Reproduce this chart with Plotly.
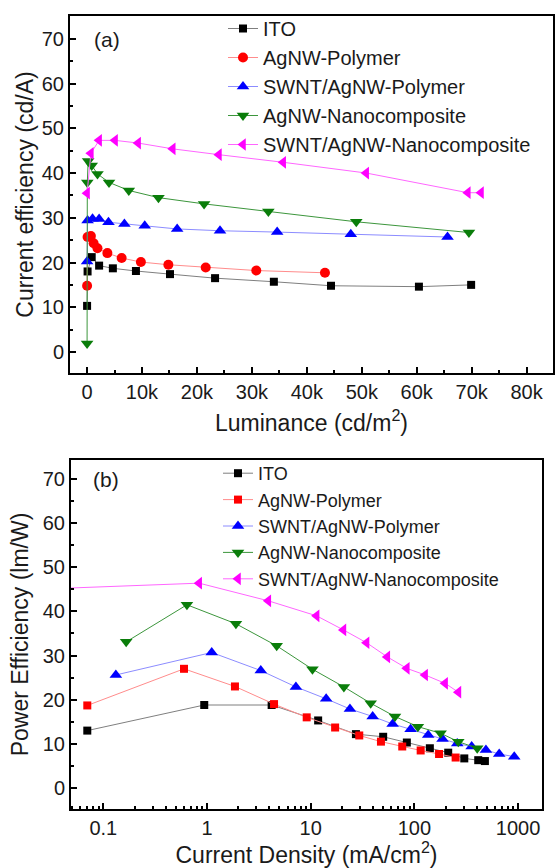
import plotly.graph_objects as go

# ---------------- data (a): current efficiency vs luminance ----------------
names = ["ITO", "AgNW-Polymer", "SWNT/AgNW-Polymer", "AgNW-Nanocomposite", "SWNT/AgNW-Nanocomposite"]

ito_a_x = [10, 100, 850, 2200, 4700, 8900, 15100, 23300, 34000, 44400, 60400, 69900]
ito_a_y = [10.3, 18.0, 21.2, 19.3, 18.7, 18.1, 17.4, 16.5, 15.7, 14.8, 14.6, 15.0]

agp_a_x = [10, 100, 700, 1200, 1900, 3700, 6300, 9800, 14800, 21600, 30800, 43300]
agp_a_y = [14.8, 25.7, 25.9, 24.3, 23.2, 22.1, 21.0, 20.1, 19.5, 18.9, 18.2, 17.7]

swp_a_x = [10, 100, 1000, 2200, 3900, 6800, 10500, 16400, 24200, 34600, 48000, 65600]
swp_a_y = [20.2, 29.4, 29.8, 29.7, 29.0, 28.6, 28.2, 27.5, 27.1, 26.8, 26.3, 25.7]

agn_a_x = [10, 50, 200, 850, 1900, 4000, 7600, 13000, 21300, 33000, 49000, 69500]
agn_a_y = [1.9, 37.9, 42.7, 41.7, 39.8, 37.9, 36.1, 34.5, 33.1, 31.4, 29.1, 26.7]

swn_a_x = [10, 700, 2200, 5100, 9300, 15600, 24000, 35700, 50800, 69300, 71700]
swn_a_y = [35.5, 44.4, 47.3, 47.3, 46.7, 45.4, 44.1, 42.4, 40.0, 35.6, 35.6]

# ---------------- data (b): power efficiency vs current density ----------------
ito_b_x = [0.070, 0.94, 4.2, 11.8, 27.3, 50, 84.6, 141, 212, 303, 413, 479]
ito_b_y = [13.0, 18.8, 18.8, 15.3, 12.2, 11.6, 10.3, 9.0, 8.0, 6.7, 6.3, 6.1]

agp_b_x = [0.070, 0.60, 1.86, 4.43, 9.15, 17.2, 29.4, 47.6, 76.4, 115, 173, 250]
agp_b_y = [18.7, 27.0, 23.0, 19.0, 16.0, 13.7, 11.9, 10.5, 9.4, 8.5, 7.7, 6.9]

swp_b_x = [0.132, 1.11, 3.3, 7.2, 14.1, 23.9, 39.6, 61.7, 92, 136, 187, 259, 357, 490, 658, 919]
swp_b_y = [25.6, 30.7, 26.6, 22.9, 20.2, 17.9, 16.2, 14.5, 13.3, 12.0, 11.1, 10.1, 9.4, 8.6, 7.7, 7.1]

agn_b_x = [0.166, 0.64, 1.9, 4.7, 10.4, 20.9, 37.9, 65, 108, 179, 265, 404]
agn_b_y = [33.1, 41.5, 37.2, 32.2, 26.9, 22.9, 19.2, 16.2, 13.9, 12.4, 10.5, 9.0]

swn_b_x = [0.01, 0.84, 3.9, 11.4, 20.7, 34.6, 54.8, 84.5, 127, 198, 266]
swn_b_y = [44.7, 46.4, 42.4, 39.0, 35.8, 32.9, 29.7, 27.1, 25.6, 23.7, 21.7]

log_major = [0.1, 1, 10, 100, 1000]
log_labels = ["0.1", "1", "10", "100", "1000"]

# ---------------- styles ----------------
mcol = ["#000000", "#ff0000", "#0000ff", "#0a7d0a", "#ff00ff"]
lcol = ["#7f7f7f", "#ff8c8c", "#8c8cff", "#3c963c", "#ff66ff"]
sym_a = ["square", "circle", "triangle-up", "triangle-down", "triangle-left"]
sym_b = ["square", "square", "triangle-up", "triangle-down", "triangle-left"]
msize_a = [8, 10, 11, 11, 11]
msize_b = [8, 8, 11, 11, 11]

FONT = "Arial, Liberation Sans, sans-serif"
TXT = "#1a1a1a"
fig = go.Figure()

data_a = [(ito_a_x, ito_a_y), (agp_a_x, agp_a_y), (swp_a_x, swp_a_y), (agn_a_x, agn_a_y), (swn_a_x, swn_a_y)]
data_b = [(ito_b_x, ito_b_y), (agp_b_x, agp_b_y), (swp_b_x, swp_b_y), (agn_b_x, agn_b_y), (swn_b_x, swn_b_y)]

for i, (x, y) in enumerate(data_a):
    fig.add_trace(go.Scatter(x=x, y=y, name=names[i], mode="lines+markers",
                             xaxis="x", yaxis="y", legend="legend",
                             line=dict(color=lcol[i], width=1),
                             marker=dict(color=mcol[i], symbol=sym_a[i], size=msize_a[i])))
for i, (x, y) in enumerate(data_b):
    fig.add_trace(go.Scatter(x=x, y=y, name=names[i], mode="lines+markers",
                             xaxis="x2", yaxis="y2", legend="legend2",
                             line=dict(color=lcol[i], width=1),
                             marker=dict(color=mcol[i], symbol=sym_b[i], size=msize_b[i])))

# minor ticks at 2..9 of each decade for the log axis
minor_log = [m * 10 ** e for e in range(-2, 4) for m in range(2, 10)]

W, H = 555, 868
def px(v): return v / W
def py(v): return 1 - v / H

axcommon = dict(showline=True, linecolor="black", linewidth=2, mirror=True,
                ticks="inside", ticklen=6, tickwidth=2, tickcolor="black",
                showgrid=False, zeroline=False,
                tickfont=dict(family=FONT, size=20, color=TXT),
                title_font=dict(family=FONT, size=23, color=TXT))

fig.update_layout(
    width=W, height=H, margin=dict(l=0, r=0, t=0, b=0),
    paper_bgcolor="white", plot_bgcolor="white",
    font=dict(family=FONT, color=TXT),
    xaxis=dict(domain=[px(70), px(553)], anchor="y", range=[-3100, 84800], dtick=10000,
               minor=dict(ticks="inside", ticklen=3, tickwidth=2, dtick=5000, tickcolor="black"),
               title=dict(text="Luminance (cd/m<sup>2</sup>)", standoff=13), **axcommon),
    yaxis=dict(domain=[py(373), py(16)], anchor="x", range=[-4.7, 75.1], dtick=10,
               minor=dict(ticks="inside", ticklen=3, tickwidth=2, dtick=5, tickcolor="black"),
               title=dict(text="Current efficiency (cd/A)", standoff=2), **axcommon),
    xaxis2=dict(domain=[px(71), px(542)], anchor="y2", type="log", range=[-1.312, 3.231],
                tickvals=log_major, ticktext=log_labels,
                minor=dict(ticks="inside", ticklen=3, tickwidth=1.5, tickcolor="black",
                           tickvals=minor_log),
                title=dict(text="Current Density (mA/cm<sup>2</sup>)", standoff=8), **axcommon),
    yaxis2=dict(domain=[py(809), py(460)], anchor="x2", range=[-4.76, 74.3], dtick=10,
                minor=dict(ticks="inside", ticklen=3, tickwidth=2, dtick=5, tickcolor="black"),
                title=dict(text="Power Efficiency (lm/W)", standoff=8), **axcommon),
    legend=dict(x=px(223), y=py(9), xanchor="left", yanchor="top", bgcolor="rgba(0,0,0,0)",
                font=dict(family=FONT, size=20, color=TXT), tracegroupgap=0, itemwidth=30),
    legend2=dict(x=px(218), y=py(455), xanchor="left", yanchor="top", bgcolor="rgba(0,0,0,0)",
                 font=dict(family=FONT, size=18, color=TXT), tracegroupgap=0, itemwidth=30),
    annotations=[
        dict(text="(a)", x=px(92), y=py(39), xref="paper", yref="paper", xanchor="left", yanchor="middle",
             showarrow=False, font=dict(family=FONT, size=21, color=TXT)),
        dict(text="(b)", x=px(91), y=py(479), xref="paper", yref="paper", xanchor="left", yanchor="middle",
             showarrow=False, font=dict(family=FONT, size=21, color=TXT)),
    ],
)

fig.write_html("out.html")
